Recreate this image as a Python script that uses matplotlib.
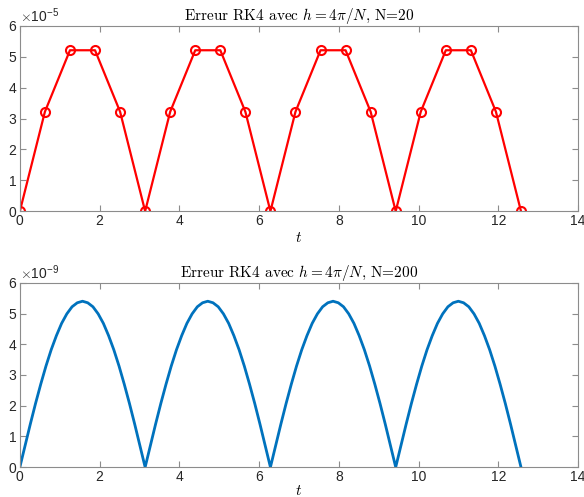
import matplotlib.pyplot as plt
import numpy as np

plt.rcParams['font.family'] = ['Liberation Sans', 'DejaVu Sans']
plt.rcParams['mathtext.fontset'] = 'cm'
plt.rcParams['axes.unicode_minus'] = False

# N = 20 : 21 points over [0, 4*pi]
t20 = np.linspace(0, 4 * np.pi, 21)
err20 = [0, 3.22, 5.21, 5.21, 3.22, 0,
         3.22, 5.21, 5.21, 3.22, 0,
         3.22, 5.21, 5.21, 3.22, 0,
         3.22, 5.21, 5.21, 3.22, 0]
err20 = np.array(err20) * 1e-5

# N = 200 : curve read at 97 samples over [0, 4*pi]
t200 = np.linspace(0, 4 * np.pi, 97)
err200 = [0.00, 0.70, 1.40, 2.07, 2.70, 3.29, 3.82, 4.28, 4.68, 4.99, 5.22, 5.35, 5.40,
          5.35, 5.22, 4.99, 4.68, 4.28, 3.82, 3.29, 2.70, 2.07, 1.40, 0.70,
          0.00, 0.70, 1.40, 2.07, 2.70, 3.29, 3.82, 4.28, 4.68, 4.99, 5.22, 5.35, 5.40,
          5.35, 5.22, 4.99, 4.68, 4.28, 3.82, 3.29, 2.70, 2.07, 1.40, 0.70,
          0.00, 0.70, 1.40, 2.07, 2.70, 3.29, 3.82, 4.28, 4.68, 4.99, 5.22, 5.35, 5.40,
          5.35, 5.22, 4.99, 4.68, 4.28, 3.82, 3.29, 2.70, 2.07, 1.40, 0.70,
          0.00, 0.70, 1.40, 2.07, 2.70, 3.29, 3.82, 4.28, 4.68, 4.99, 5.22, 5.35, 5.40,
          5.35, 5.22, 4.99, 4.68, 4.28, 3.82, 3.29, 2.70, 2.07, 1.40, 0.70,
          0.00]
err200 = np.array(err200) * 1e-9

xticks = [0, 2, 4, 6, 8, 10, 12, 14]

fig = plt.figure(figsize=(5.84, 4.97), dpi=100)
ax1 = fig.add_axes([0.034, 0.575, 0.956, 0.373])
ax2 = fig.add_axes([0.034, 0.060, 0.956, 0.371])

ax1.plot(t20, err20, color='#ff0000', lw=1.6, marker='o', ms=6.5,
         mfc='none', mew=1.5)
ax2.plot(t200, err200, color='#0072bd', lw=2)

for ax, N, scale, lp in [(ax1, 20, 1e-5, 2), (ax2, 200, 1e-9, 0)]:
    ax.set_xlim(0, 14)
    ax.set_ylim(0, 6 * scale)
    ax.set_xticks(xticks)
    ax.set_yticks(np.arange(0, 7) * scale)
    ax.ticklabel_format(axis='y', style='sci', scilimits=(0, 0), useMathText=True)
    ax.yaxis.get_offset_text().set_fontsize(10)
    ax.yaxis.get_offset_text().set_color('#262626')
    for s in ax.spines.values():
        s.set_color('#8c8c8c')
        s.set_linewidth(0.8)
    ax.tick_params(direction='in', top=True, right=True, length=4,
                   width=0.8, color='#8c8c8c', labelsize=10,
                   labelcolor='#262626', pad=2)
    ax.set_title(r'Erreur RK4 avec $h=4\pi/N$, N=%d' % N,
                 family='cmr10', fontsize=11, pad=4)
    ax.set_xlabel(r'$t$', fontsize=11, labelpad=lp)

fig.savefig('out.png', dpi=100)
